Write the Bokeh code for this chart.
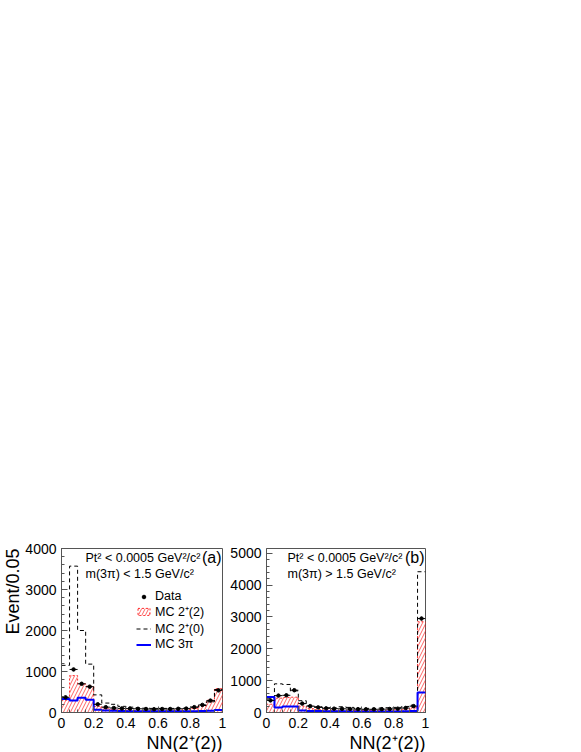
import numpy as np
from math import pi
from bokeh.plotting import figure
from bokeh.layouts import row
from bokeh.models import FixedTicker, Label, Legend, LegendItem, ColumnDataSource, Title
from bokeh.embed import file_html
from bokeh.resources import INLINE

# ---------------- data ----------------
bin_width = 0.05
n_bins = 20
edges = np.round(np.arange(n_bins + 1) * bin_width, 2)

# panel (a): m(3pi) < 1.5 GeV/c^2
data_a = [370, 1050, 700, 630, 200, 130, 110, 100, 95, 90, 85, 80, 85, 85, 90, 95, 130, 185, 290, 540]
red_a = [300, 900, 700, 640, 150, 90, 70, 60, 55, 50, 50, 50, 50, 55, 60, 70, 100, 160, 300, 580]
dash_a = [1150, 3570, 2000, 1180, 430, 230, 200, 150, 130, 115, 105, 100, 100, 100, 105, 110, 130, 170, 260, 560]
blue_a = [330, 290, 360, 310, 70, 50, 40, 35, 30, 30, 30, 30, 30, 30, 30, 30, 30, 35, 40, 60]

# panel (b): m(3pi) > 1.5 GeV/c^2
data_b = [380, 530, 540, 700, 280, 200, 160, 130, 120, 115, 110, 105, 100, 100, 105, 110, 120, 140, 200, 2950]
red_b = [260, 450, 470, 480, 200, 120, 90, 80, 75, 70, 70, 65, 65, 65, 70, 75, 85, 100, 150, 2850]
dash_b = [450, 900, 880, 680, 370, 220, 180, 150, 140, 180, 160, 130, 130, 130, 140, 150, 160, 190, 230, 4420]
blue_b = [490, 160, 190, 190, 60, 50, 45, 40, 40, 40, 35, 35, 35, 35, 35, 35, 35, 40, 50, 630]

x_major = [0, 0.2, 0.4, 0.6, 0.8, 1]
x_minor = list(edges)
y_major_a = [0, 1000, 2000, 3000, 4000]
y_minor_a = list(range(0, 4001, 200))
y_major_b = [0, 1000, 2000, 3000, 4000, 5000]
y_minor_b = list(range(0, 5101, 200))

# ---------------- style ----------------
FONT = "Liberation Sans"
FRAME = "#555555"
RED = "#ff3030"
BLUE = "#0000ff"
H = 752
BT, BB, BR = 548, 40, 5


def panel(width, border_left, y_end, y_major, y_minor, data, red, dash, blue):
    p = figure(width=width, height=H, x_range=(0, 1), y_range=(0, y_end),
               output_backend="svg", toolbar_location=None,
               min_border_left=border_left, min_border_right=BR,
               min_border_top=BT, min_border_bottom=BB)
    p.xgrid.visible = False
    p.ygrid.visible = False
    p.outline_line_color = FRAME
    p.background_fill_color = "white"
    p.border_fill_color = "white"
    for ax in (p.xaxis[0], p.yaxis[0]):
        ax.axis_line_color = FRAME
        ax.major_tick_line_color = FRAME
        ax.minor_tick_line_color = FRAME
        ax.major_tick_in = 6
        ax.major_tick_out = 0
        ax.minor_tick_in = 3
        ax.minor_tick_out = 0
        ax.major_label_text_font = FONT
        ax.major_label_text_font_size = "14px"
        ax.major_label_text_color = "black"
        ax.major_label_standoff = 5
    p.xaxis.ticker = FixedTicker(ticks=x_major, minor_ticks=x_minor)
    p.xaxis.major_label_overrides = {0: "0", 1: "1"}
    p.yaxis.ticker = FixedTicker(ticks=y_major, minor_ticks=y_minor)

    d = np.array(data, dtype=float)
    src = ColumnDataSource(dict(
        left=edges[:-1], right=edges[1:], center=(edges[:-1] + edges[1:]) / 2,
        data=d, lo=d - np.sqrt(d), hi=d + np.sqrt(d)))

    # hatched MC 2+(2) histogram as one outlined area
    r = np.array(red, dtype=float)
    px = np.concatenate([[edges[0]], np.repeat(edges, 2)[1:-1], [edges[-1]]])
    py = np.concatenate([[0], np.repeat(r, 2), [0]])
    r_red = p.patch(x=px, y=py, fill_alpha=0, hatch_pattern="/", hatch_color=RED,
                    hatch_alpha=0.75, hatch_scale=7, hatch_weight=1,
                    line_color=RED, line_dash="2 2", line_width=1)
    r_dash = p.step(x=edges, y=np.append(dash, dash[-1]), mode="after",
                    line_color="black", line_dash="4 3", line_width=1)
    r_blue = p.step(x=edges, y=np.append(blue, blue[-1]), mode="after",
                    line_color=BLUE, line_width=2)
    p.segment(x0="left", x1="right", y0="data", y1="data", source=src,
              line_color="black", line_width=1)
    p.segment(x0="center", x1="center", y0="lo", y1="hi", source=src,
              line_color="black", line_width=1)
    r_data = p.scatter(x="center", y="data", source=src, size=3.5, color="black")

    p.add_layout(Title(text="NN(2\u207a(2))", align="right", text_font=FONT,
                       text_font_size="18px", text_font_style="normal",
                       text_color="black", standoff=0), "below")
    return p, (r_data, r_red, r_dash, r_blue)


p1, rs1 = panel(58 + 164 + BR, 58, 4000, y_major_a, y_minor_a, data_a, red_a, dash_a, blue_a)
p2, rs2 = panel(35 + 163 + BR, 35, 5150, y_major_b, y_minor_b, data_b, red_b, dash_b, blue_b)

# y-axis title
p1.add_layout(Title(text="Event/0.05", align="right", text_font=FONT,
                    text_font_size="18px", text_font_style="normal",
                    text_color="black", standoff=0), "left")

# panel texts
for p, y_end, dx, l1, l2, tag in ((p1, 4000, 24, "Pt\u00b2 < 0.0005 GeV\u00b2/c\u00b2", "m(3\u03c0) < 1.5 GeV/c\u00b2", "(a)"),
                                  (p2, 5150, 21, "Pt\u00b2 < 0.0005 GeV\u00b2/c\u00b2", "m(3\u03c0) > 1.5 GeV/c\u00b2", "(b)")):
    p.add_layout(Label(x=0, y=y_end, x_offset=dx, y_offset=-9, text=l1,
                       text_baseline="middle", text_font=FONT, text_font_size="12.5px",
                       text_color="black"))
    p.add_layout(Label(x=0, y=y_end, x_offset=dx, y_offset=-25, text=l2,
                       text_baseline="middle", text_font=FONT, text_font_size="12.5px",
                       text_color="black"))
    p.add_layout(Label(x=1, y=y_end, x_offset=-1, y_offset=-9, text=tag,
                       text_align="right", text_baseline="middle", text_font=FONT,
                       text_font_size="16px", text_color="black"))

# legend in panel (a)
r_data, r_red, r_dash, r_blue = rs1
legend = Legend(items=[
    LegendItem(label="Data", renderers=[r_data]),
    LegendItem(label="MC 2\u207a(2)", renderers=[r_red]),
    LegendItem(label="MC 2\u207a(0)", renderers=[r_dash]),
    LegendItem(label="MC 3\u03c0", renderers=[r_blue]),
], location=(75, 61), padding=0, margin=0, spacing=0, glyph_width=15, glyph_height=9,
    label_height=12, label_standoff=4, label_text_font=FONT, label_text_font_size="12.5px",
    label_text_color="black", label_text_baseline="middle",
    background_fill_alpha=0, border_line_alpha=0)
p1.add_layout(legend, "center")

layout = row(p1, p2)
open("out.html", "w").write(file_html(layout, INLINE))
